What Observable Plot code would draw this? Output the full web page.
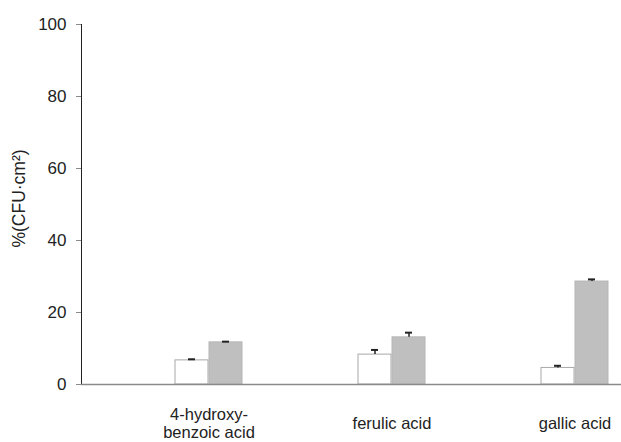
<!DOCTYPE html>
<html>
<head>
<meta charset="utf-8">
<script src="https://cdn.jsdelivr.net/npm/d3@7"></script>
<script src="https://cdn.jsdelivr.net/npm/@observablehq/plot@0.6"></script>
<style>
  html, body { margin: 0; padding: 0; background: #fff; }
  #chart svg { display: block; }
</style>
</head>
<body>
<div id="chart"></div>
<script>
// Data
const categories = ["4-hydroxy-\nbenzoic acid", "ferulic acid", "gallic acid"];
const whiteValues = [6.7, 8.3, 4.6];
const whiteErrors = [0.3, 1.3, 0.6];
const greyValues = [11.7, 13.1, 28.6];
const greyErrors = [0.2, 1.3, 0.6];
const yTicks = [0, 20, 40, 60, 80, 100];
const yLabel = "%(CFU·cm²)";

const white = categories.map((c, i) => ({category: c, value: whiteValues[i], err: whiteValues[i] + whiteErrors[i]}));
const grey = categories.map((c, i) => ({category: c, value: greyValues[i], err: greyValues[i] + greyErrors[i]}));

const axisColor = "#8a8a8a";
const barW = 34;     // bar width in px
const half = 92;     // half of the band width
const capHalf = 4;

const chart = Plot.plot({
  width: 621,
  height: 442,
  marginLeft: 81,
  marginRight: 0,
  marginTop: 24,
  marginBottom: 58,
  style: {fontFamily: "'Liberation Sans', Arial, sans-serif", fontSize: "17px", color: "#222", background: "#fff"},
  x: {domain: categories, range: [115.3, 666.7], padding: 0, axis: null},
  y: {domain: [0, 100], ticks: yTicks, tickSize: 5, tickPadding: 10, label: null, line: true},
  marks: [
    Plot.barY(white, {x: "category", y: "value", fill: "#ffffff", stroke: "#a8a8a8", strokeWidth: 1,
      insetLeft: half - barW, insetRight: half}),
    Plot.barY(grey, {x: "category", y: "value", fill: "#bfbfbf", stroke: "#b5b5b5", strokeWidth: 1,
      insetLeft: half, insetRight: half - barW}),
    Plot.ruleX(white, {x: "category", y1: "value", y2: "err", dx: -barW / 2, stroke: "#222", strokeWidth: 1.5}),
    Plot.ruleX(grey, {x: "category", y1: "value", y2: "err", dx: barW / 2, stroke: "#222", strokeWidth: 1.5}),
    Plot.tickY(white, {x: "category", y: "err", stroke: "#222", strokeWidth: 2,
      insetLeft: half - barW / 2 - capHalf, insetRight: half + barW / 2 - capHalf}),
    Plot.tickY(grey, {x: "category", y: "err", stroke: "#222", strokeWidth: 2,
      insetLeft: half + barW / 2 - capHalf, insetRight: half - barW / 2 - capHalf}),
    Plot.ruleY([0], {stroke: axisColor, strokeWidth: 1.3}),
    Plot.text(categories, {x: d => d, frameAnchor: "bottom", dy: 39, lineAnchor: "middle",
      textAnchor: "middle", fontSize: 16.5, lineHeight: 1.08, fill: "#222"}),
    Plot.text([yLabel], {frameAnchor: "left", textAnchor: "middle", dx: -62, dy: -6, rotate: -90, fontSize: 17.5, fill: "#222"})
  ]
});

document.getElementById("chart").appendChild(chart);
// style axis line and ticks grey
chart.querySelectorAll('g[aria-label="y-axis tick"], g[aria-label="y-axis line"]').forEach(g => g.setAttribute("stroke", axisColor));
</script>
</body>
</html>
